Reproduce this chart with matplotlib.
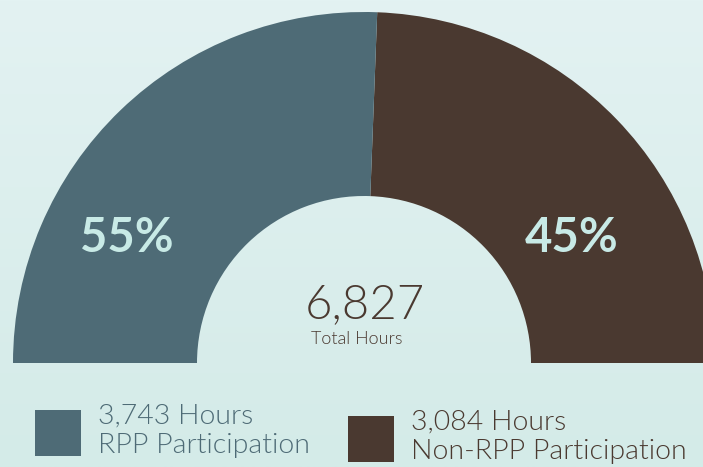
import numpy as np
import matplotlib
matplotlib.use("Agg")
from matplotlib import pyplot as plt

# data
labels = ["RPP Participation", "Non-RPP Participation"]
hours = [3743, 3084]
pct_labels = ["55%", "45%"]
# arc shares as drawn in the reference (left / right)
arc_shares = [51.2, 48.8]
colors = ["#4e6b76", "#4a3930"]

W, H = 703, 467
fig = plt.figure(figsize=(W / 100, H / 100), dpi=100)

# background gradient
bg = fig.add_axes([0, 0, 1, 1], zorder=0)
grad = np.linspace(0, 1, 256).reshape(-1, 1)
top = np.array([0xe3, 0xf2, 0xf2]) / 255
bot = np.array([0xd4, 0xeb, 0xe8]) / 255
img = top[None, None, :] * (1 - grad[..., None]) + bot[None, None, :] * grad[..., None]
bg.imshow(img, aspect="auto", extent=[0, 1, 0, 1])
bg.axis("off")

ax = fig.add_axes([0, 0, 1, 1], zorder=1)
ax.patch.set_alpha(0)

cx, cy = 364, H - 363
R, r_in = 351, 167
# right slice first (counter-clockwise from 0 deg), then left, then hidden lower half
vals = [arc_shares[1], arc_shares[0], sum(arc_shares)]
ax.pie(vals, colors=[colors[1], colors[0], "none"], startangle=0,
       center=(cx, cy), radius=R,
       wedgeprops=dict(width=R - r_in, linewidth=0))
ax.set_xlim(0, W)
ax.set_ylim(0, H)
ax.set_aspect("auto")
ax.axis("off")

font = "Lato"
ax.text(127, H - 238, pct_labels[0], color="#c8eae6", fontsize=34,
        fontweight="bold", family=font, ha="center", va="center")
ax.text(572, H - 238, pct_labels[1], color="#c8eae6", fontsize=34,
        fontweight="bold", family=font, ha="center", va="center")

ax.text(cx + 1, H - 305, "{:,}".format(sum(hours)), color="#4a3930", fontsize=34,
        fontweight=300, family=font, ha="center", va="center")
ax.text(cx - 7, H - 339, "Total Hours", color="#4a3930", fontsize=13,
        fontweight=300, family=font, ha="center", va="center")

# legend
sq = [(35, 410), (348, 416)]
txt_x = [98, 411]
for i in range(2):
    x0, y0 = sq[i]
    ax.add_patch(plt.Rectangle((x0, H - y0 - 46), 46, 46, color=colors[i], lw=0))
    ax.text(txt_x[i], H - y0 - 21, "{:,} Hours\n{}".format(hours[i], labels[i]),
            color=colors[i], fontsize=20.5, family=font, fontweight=300,
            ha="left", va="center", linespacing=1.2)

fig.savefig("out.png", dpi=100)
